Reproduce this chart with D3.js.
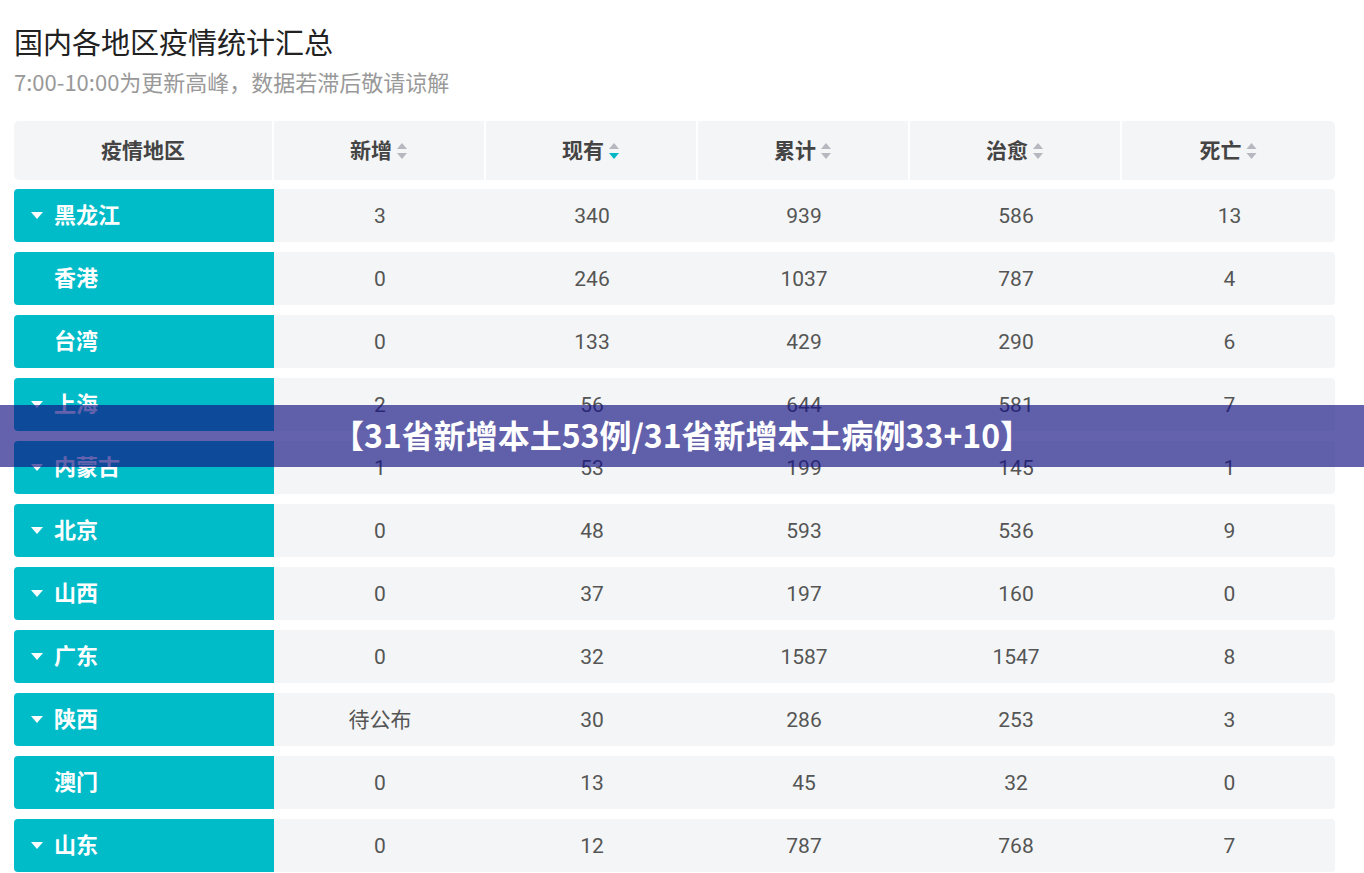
<!DOCTYPE html>
<html>
<head>
<meta charset="utf-8">
<script src="https://d3js.org/d3.v7.min.js"></script>
<style>
  body { margin: 0; background: #fff; font-family: "Noto Sans CJK SC", Roboto, sans-serif; }
</style>
</head>
<body>
<div id="chart"></div>
<script>
var headers = ["疫情地区", "新增", "现有", "累计", "治愈", "死亡"];
var regions = ["黑龙江", "香港", "台湾", "上海", "内蒙古", "北京", "山西", "广东", "陕西", "澳门", "山东"];
var expandable = [true, false, false, true, true, true, true, true, true, false, true];
var added = ["3", "0", "0", "2", "1", "0", "0", "0", "待公布", "0", "0"];
var current = [340, 246, 133, 56, 53, 48, 37, 32, 30, 13, 12];
var total = [939, 1037, 429, 644, 199, 593, 197, 1587, 286, 45, 787];
var cured = [586, 787, 290, 581, 145, 536, 160, 1547, 253, 32, 768];
var deaths = [13, 4, 6, 7, 1, 9, 0, 8, 3, 0, 7];

var width = 1364, height = 873;
var svg = d3.select("#chart").append("svg").attr("width", width).attr("height", height);

svg.append("text").attr("x", 14).attr("y", 54).text("国内各地区疫情统计汇总")
  .style("font-size", "29px").style("fill", "#222");
svg.append("text").attr("x", 14).attr("y", 91).text("7:00-10:00为更新高峰，数据若滞后敬请谅解")
  .style("font-size", "22px").style("fill", "#999");

// columns
var colEdges = [14, 274, 486, 698, 910, 1122, 1335];
var x = function(i) { return colEdges[i]; };
var w = function(i) { return colEdges[i + 1] - colEdges[i] - (i < 5 ? 2 : 0); };

var y = d3.scaleBand().domain(d3.range(regions.length))
  .range([189, 189 + 63 * regions.length - 10]).paddingInner(10 / 63);

// header
svg.append("rect").attr("x", 14).attr("y", 121).attr("width", 1321).attr("height", 59).attr("rx", 5).attr("fill", "#f4f5f7");
headers.forEach(function(h, i) {
  if (i > 0) svg.append("rect").attr("x", x(i) - 2).attr("y", 121).attr("width", 2).attr("height", 59).attr("fill", "#fff");
  var cx = x(i) + w(i) / 2;
  svg.append("text").attr("x", i === 0 ? cx : cx - 8).attr("y", 158).attr("text-anchor", "middle")
    .text(h).style("font-size", "21px").style("font-weight", "bold").style("fill", "#444");
  if (i > 0) {
    var ax = cx + 23;
    svg.append("path").attr("d", "M" + (ax - 5) + ",149 L" + (ax + 5) + ",149 L" + ax + ",143 Z").attr("fill", "#b5b8be");
    svg.append("path").attr("d", "M" + (ax - 5) + ",153 L" + (ax + 5) + ",153 L" + ax + ",159 Z").attr("fill", i === 2 ? "#00b7c6" : "#b5b8be");
  }
});

var rows = svg.selectAll(".row").data(regions).enter().append("g")
  .attr("transform", function(d, i) { return "translate(0," + y(i) + ")"; });

rows.append("rect").attr("x", 14).attr("width", 1321).attr("height", y.bandwidth()).attr("rx", 4).attr("fill", "#f4f5f7");
rows.append("rect").attr("x", 14).attr("width", 260).attr("height", y.bandwidth()).attr("rx", 4).attr("fill", "#00bcc8");
rows.append("rect").attr("x", 264).attr("width", 10).attr("height", y.bandwidth()).attr("fill", "#00bcc8");
rows.filter(function(d, i) { return expandable[i]; }).append("path")
  .attr("d", "M31,23 L43,23 L37,30 Z").attr("fill", "#fff");
rows.append("text").attr("x", 54).attr("y", 34).text(function(d) { return d; })
  .style("font-size", "22px").style("font-weight", "bold").style("fill", "#fff");

var cols = [added, current, total, cured, deaths];
cols.forEach(function(arr, c) {
  rows.append("text").attr("x", x(c + 1) + w(c + 1) / 2 + 1).attr("y", 34).attr("text-anchor", "middle")
    .text(function(d, i) { return arr[i]; })
    .style("font-family", "Roboto, 'Noto Sans CJK SC', sans-serif")
    .style("font-size", "21px").style("fill", "#555");
});

// banner
svg.append("rect").attr("x", 0).attr("y", 405).attr("width", width).attr("height", 62).attr("fill", "rgba(20,16,131,0.66)");
svg.append("text").attr("x", width / 2).attr("y", 448).attr("text-anchor", "middle")
  .text("【31省新增本土53例/31省新增本土病例33+10】")
  .style("font-size", "32px").style("font-weight", "bold").style("fill", "#fff");
</script>
</body>
</html>
